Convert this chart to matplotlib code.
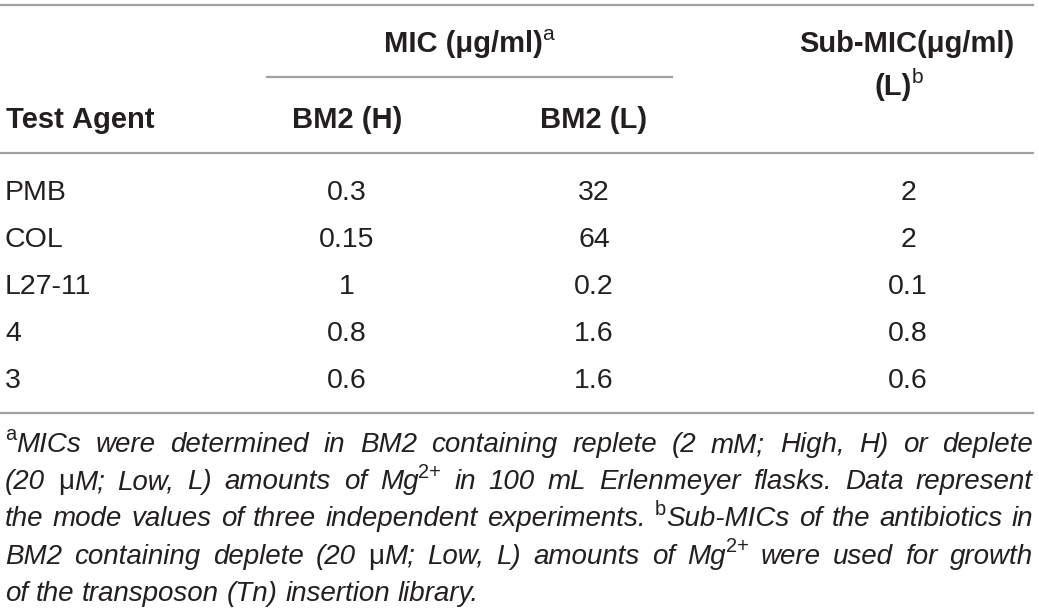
import re
import matplotlib
matplotlib.use("Agg")
import matplotlib.pyplot as plt

# table content
agents = ["PMB", "COL", "L27-11", "4", "3"]
mic_high = [0.3, 0.15, 1, 0.8, 0.6]
mic_low = [32, 64, 0.2, 1.6, 1.6]
sub_mic = [2, 2, 0.1, 0.8, 0.6]

col_heads = ["Test Agent", "BM2 (H)", "BM2 (L)"]
group_head = "MIC (μg/ml)^{a}"
sub_head = ["Sub-MIC(μg/ml)", "(L)^{b}"]

# ^{..} = superscript, |..| = upright inside italic text
footnote = [
    "^{a}MICs were determined in BM2 containing replete (2 mM; High, H) or deplete",
    "(20 |μ|M; Low, L) amounts of Mg^{2+} in 100 mL Erlenmeyer flasks. Data represent",
    "the mode values of three independent experiments. ^{b}Sub-MICs of the antibiotics in",
    "BM2 containing deplete (20 |μ|M; Low, L) amounts of Mg^{2+} were used for growth",
    "of the transposon (Tn) insertion library.",
]

W, H = 1039, 613
TXT = "#231f20"
RULE = "#a0a0a0"
FAM = ["Liberation Sans", "DejaVu Sans"]
BODY = 20.5
HEAD = 21
NOTE = 20

fig = plt.figure(figsize=(W / 100, H / 100), dpi=100)
ax = fig.add_axes([0, 0, 1, 1])
ax.set_xlim(0, W)
ax.set_ylim(H, 0)
ax.axis("off")
renderer = fig.canvas.get_renderer()


def parse(word, base):
    runs = []
    for m in re.finditer(r"\^\{([^}]*)\}|\|([^|]*)\||([^^|]+)", word):
        if m.group(1) is not None:
            st = dict(base, size=base["size"] * 0.72, style="normal",
                      weight="normal", rise=base["size"] * 0.42)
            runs.append((m.group(1), st))
        elif m.group(2) is not None:
            runs.append((m.group(2), dict(base, style="normal")))
        else:
            runs.append((m.group(3), base))
    return runs


def width(s, st):
    t = ax.text(0, 0, s, fontsize=st["size"], fontweight=st["weight"],
                fontstyle=st["style"], family=FAM)
    w = t.get_window_extent(renderer).width
    t.remove()
    return w


def draw_runs(x, y, runs):
    for s, st in runs:
        ax.text(x, y - st.get("rise", 0) * 100 / 72, s, fontsize=st["size"],
                fontweight=st["weight"], fontstyle=st["style"], family=FAM,
                color=TXT, va="baseline", ha="left")
        x += width(s, st)
    return x


def runs_width(runs):
    return sum(width(s, st) for s, st in runs)


def draw_label(x, y, text, ha="left", weight="normal", size=BODY):
    base = {"size": size, "weight": weight, "style": "normal"}
    runs = parse(text.replace(" ", "\u00a0"), base)
    w = runs_width(runs)
    if ha == "center":
        x -= w / 2
    draw_runs(x, y, runs)


# rules
ax.plot([0, 1033], [5, 5], color=RULE, lw=1.6)
ax.plot([267, 672], [77, 77], color=RULE, lw=1.6)
ax.plot([0, 1033], [153, 153], color=RULE, lw=1.6)
ax.plot([0, 1033], [413, 413], color=RULE, lw=1.6)

# header
draw_label(469, 52, group_head, ha="center", weight="bold", size=HEAD)
draw_label(907, 52, sub_head[0], ha="center", weight="bold", size=HEAD)
draw_label(899, 95, sub_head[1], ha="center", weight="bold", size=HEAD)
draw_label(6, 128, col_heads[0], weight="bold", size=HEAD)
draw_label(347, 128, col_heads[1], ha="center", weight="bold", size=HEAD)
draw_label(594, 128, col_heads[2], ha="center", weight="bold", size=HEAD)

# body rows
for i, name in enumerate(agents):
    yb = 200 + 47 * i
    draw_label(5, yb, name)
    draw_label(347, yb, f"{mic_high[i]:g}", ha="center")
    draw_label(594, yb, f"{mic_low[i]:g}", ha="center")
    draw_label(908, yb, f"{sub_mic[i]:g}", ha="center")

# justified footnote
note_base = {"size": NOTE, "weight": "normal", "style": "italic"}
space_w = width("a a", note_base) - width("aa", note_base)
left, right = 5, 1033
for j, line in enumerate(footnote):
    yb = 452 + 37.2 * j
    words = [parse(w, note_base) for w in line.split(" ")]
    widths = [runs_width(r) for r in words]
    last = j == len(footnote) - 1
    gap = space_w if last else (right - left - sum(widths)) / (len(words) - 1)
    x = left
    for r, w in zip(words, widths):
        draw_runs(x, yb, r)
        x += w + gap

fig.savefig("out.png", dpi=100)
